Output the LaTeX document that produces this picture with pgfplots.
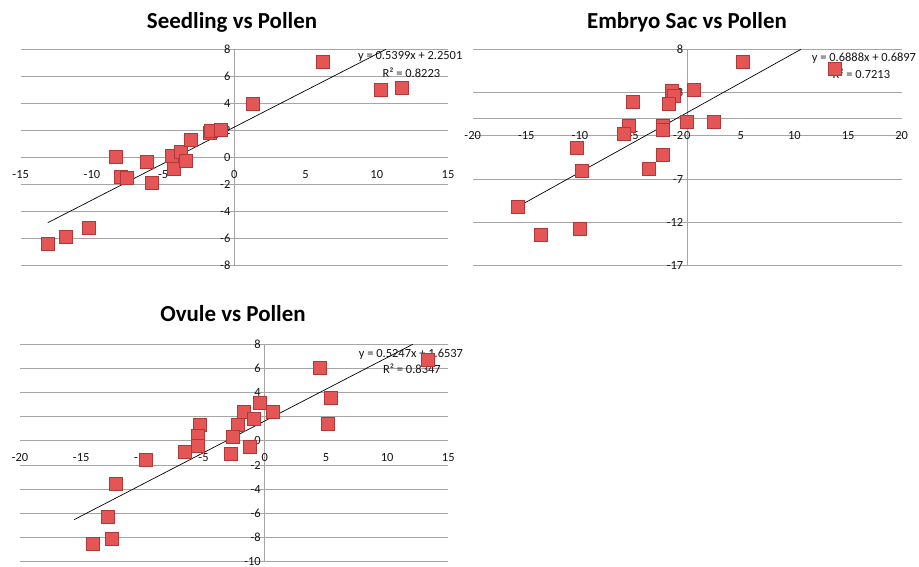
\documentclass[border=0pt]{standalone}
\usepackage{pgfplots}
\pgfplotsset{compat=1.18}
\usepackage{fontspec}
\setmainfont{Carlito}
\definecolor{gridgray}{RGB}{165,165,165}
\definecolor{mkfill}{RGB}{228,86,86}
\definecolor{mkdraw}{RGB}{180,55,55}
\definecolor{txt}{RGB}{20,20,20}

\tikzset{eqn/.style={font=\fontsize{12.5}{13}\selectfont, text=txt}}
\pgfplotsset{
  excel/.style={
    scale only axis,
    axis lines=middle,
    axis line style={gridgray, line width=0.9bp, -},
    every inner x axis line/.append style={-},
    every inner y axis line/.append style={-},
    ymajorgrids,
    grid style={gridgray, line width=0.9bp},
    major tick length=0pt,
    hide obscured x ticks=false,
    hide obscured y ticks=false,
    /pgf/number format/assume math mode=true,
    ticklabel style={font=\fontsize{12.5}{13}\selectfont, text=txt},
    xticklabel style={anchor=center, yshift=-17bp},
    yticklabel style={anchor=east, xshift=-0.5bp},
    clip=false,
  },
  pts/.style={only marks, mark=square*, mark size=6.5bp,
    mark options={fill=mkfill, draw=mkdraw, line width=0.5bp}},
  trend/.style={black, line width=0.7bp, no marks},
}

\pgfplotstableread{
x y
-13.1 -6.4
-11.87 -5.85
-10.23 -5.2
-8.36 0.07
-8.0 -1.4
-7.54 -1.5
-6.13 -0.35
-5.83 -1.87
-4.38 0.15
-4.26 -0.86
-3.79 0.4
-3.39 -0.24
-3.09 1.29
-1.76 1.8
-1.64 2.0
-0.98 2.05
1.31 3.98
6.23 7.09
10.27 4.99
11.78 5.16
}\seedling

\pgfplotstableread{
x y
5.16 6.57
13.77 5.8
-1.46 3.22
-1.24 2.6
-1.68 1.76
0.62 3.30
-5.09 1.91
0.0 -0.40
2.43 -0.40
-5.41 -0.83
-5.9 -1.71
-2.24 -0.86
-2.24 -1.32
-10.31 -3.32
-2.24 -4.17
-3.6 -5.79
-9.85 -6.02
-15.81 -10.18
-13.64 -13.38
-10.0 -12.72
}\embryo

\pgfplotstableread{
x y
13.29 6.70
4.52 6.09
5.42 3.61
5.15 1.40
-0.38 3.16
0.65 2.42
-1.75 2.42
-0.87 1.87
-2.24 1.34
-2.65 0.34
-2.78 -1.03
-1.2 -0.51
-5.29 1.34
-5.47 0.40
-5.47 -0.37
-6.57 -0.87
-9.75 -1.53
-12.15 -3.52
-12.86 -6.28
-12.48 -8.07
-14.05 -8.55
}\ovule

\begin{document}
\begin{tikzpicture}
\path[use as bounding box] (0,0) rectangle (919bp,567bp);

% Seedling vs Pollen
\begin{axis}[excel, at={(20.7bp,301.3bp)}, anchor=south west,
  width=427.3bp, height=216.4bp,
  xmin=-15, xmax=15, ymin=-8, ymax=8,
  xtick={-15,-10,...,15}, ytick={-8,-6,...,8}]
  \addplot[pts] table {\seedling};
  \addplot[trend] coordinates {(-13.1,-4.8226) (10.650,8)};
  \node[eqn] at (axis cs:12.35,7.46) {y = 0.5399x + 2.2501};
  \node[eqn] at (axis cs:12.43,6.27) {R² = 0.8223};
\end{axis}

% Embryo Sac vs Pollen
\begin{axis}[excel, at={(472.7bp,301.3bp)}, anchor=south west,
  width=429bp, height=216.4bp,
  xmin=-20, xmax=20, ymin=-17, ymax=8,
  xtick={-20,-15,...,20}, ytick={-17,-12,-7,-2,3,8}]
  \addplot[pts] table {\embryo};
  \addplot[trend] coordinates {(-15.81,-10.2002) (10.613,8)};
  \node[eqn] at (axis cs:16.48,6.96) {y = 0.6888x + 0.6897};
  \node[eqn] at (axis cs:16.24,5.23) {R² = 0.7213};
\end{axis}

% Ovule vs Pollen
\begin{axis}[excel, at={(20bp,5.3bp)}, anchor=south west,
  width=428.3bp, height=217.4bp,
  xmin=-20, xmax=15, ymin=-10, ymax=8,
  xtick={-20,-15,...,15}, ytick={-10,-8,...,8}]
  \addplot[pts] table {\ovule};
  \addplot[trend] coordinates {(-15.58,-6.5211) (12.095,8)};
  \node[eqn] at (axis cs:11.95,7.2) {y = 0.5247x + 1.6537};
  \node[eqn] at (axis cs:12.03,6.01) {R² = 0.8347};
\end{axis}

\node[anchor=base, font=\fontsize{23}{25}\bfseries\selectfont] at (232bp,538.7bp) {Seedling vs Pollen};
\node[anchor=base, font=\fontsize{23}{25}\bfseries\selectfont] at (687bp,538.7bp) {Embryo Sac vs Pollen};
\node[anchor=base, font=\fontsize{23}{25}\bfseries\selectfont] at (233bp,245.3bp) {Ovule vs Pollen};
\end{tikzpicture}
\end{document}
